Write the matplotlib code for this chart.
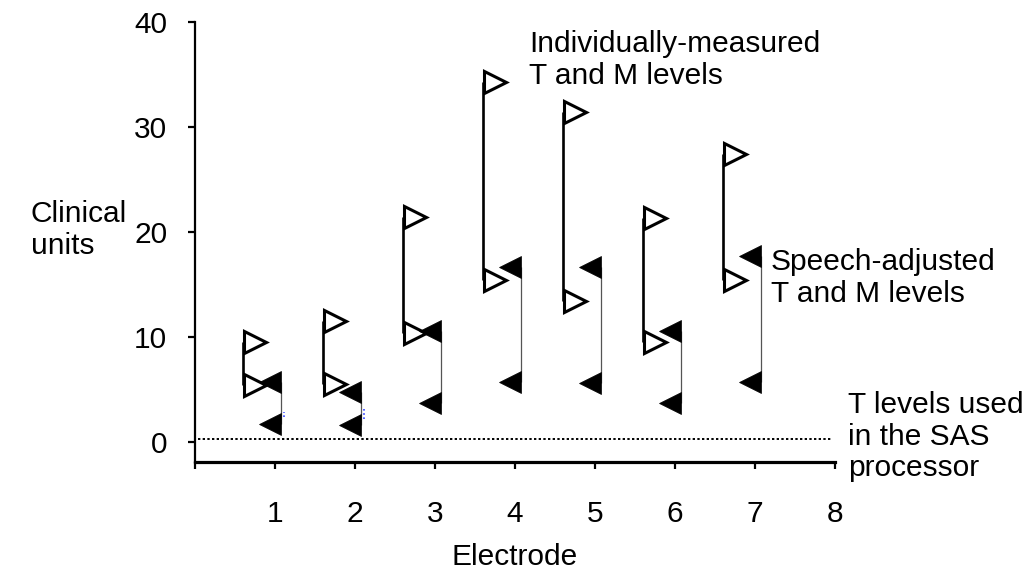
import matplotlib
matplotlib.use("Agg")
import matplotlib.pyplot as plt

plt.rcParams["font.family"] = ["Liberation Sans", "DejaVu Sans"]
plt.rcParams["font.size"] = 21.5

electrodes = [1, 2, 3, 4, 5, 6, 7]
# individually-measured levels (open triangles)
measured_m = [9.5, 11.5, 21.4, 34.3, 31.4, 21.3, 27.4]
measured_t = [5.4, 5.5, 10.4, 15.4, 13.4, 9.5, 15.4]
# speech-adjusted levels (filled triangles)
adjusted_m = [5.7, 4.8, 10.6, 16.7, 16.7, 10.6, 17.7]
adjusted_t = [1.7, 1.6, 3.7, 5.7, 5.6, 3.7, 5.7]
# small blue dotted bits next to electrodes 1 and 2
blue_electrodes = [1, 2]
blue_lo = [2.4, 2.2]
blue_hi = [2.9, 3.2]
sas_t_level = 0.25

xticks = [0, 1, 2, 3, 4, 5, 6, 7, 8]
xticklabels = ["", "1", "2", "3", "4", "5", "6", "7", "8"]
yticks = [0, 10, 20, 30, 40]

open_off = -0.25
filled_off = -0.066
open_line_off = -0.40
filled_line_off = 0.075

fig = plt.figure(figsize=(10.33, 5.71), dpi=100)
ax = fig.add_axes([195 / 1033, 1 - 462 / 571, 640 / 1033, 440 / 571])

xo = [e + open_off for e in electrodes]
xf = [e + filled_off for e in electrodes]
xol = [e + open_line_off for e in electrodes]
xfl = [e + filled_line_off for e in electrodes]

ax.vlines(xol, measured_t, measured_m, color="black", lw=1.9, zorder=2)
ax.vlines(xfl, adjusted_t, adjusted_m, color="#555555", lw=0.9, zorder=2)

ax.plot(xo, measured_m, ">", ms=16, mfc="white", mec="black", mew=2.2, ls="none", zorder=3)
ax.plot(xo, measured_t, ">", ms=16, mfc="white", mec="black", mew=2.2, ls="none", zorder=3)
ax.plot(xf, adjusted_m, "<", ms=16, mfc="black", mec="black", mew=0.5, ls="none", zorder=4)
ax.plot(xf, adjusted_t, "<", ms=16, mfc="black", mec="black", mew=0.5, ls="none", zorder=4)

ax.vlines([e + filled_line_off + 0.04 for e in blue_electrodes], blue_lo, blue_hi,
          color="#3344ff", lw=1.2, linestyles=(0, (1, 1.5)), zorder=2)

ax.plot([0.04, 7.96], [sas_t_level, sas_t_level], color="black", lw=1.4,
        ls=(0, (1.2, 1.2)), zorder=1)

ax.set_xlim(0, 8)
ax.set_ylim(-1.9, 40)
ax.spines["top"].set_visible(False)
ax.spines["right"].set_visible(False)
ax.spines["left"].set_linewidth(1.6)
ax.spines["bottom"].set_linewidth(2.3)

ax.set_xticks(xticks)
ax.set_xticklabels(xticklabels)
ax.set_yticks(yticks)
ax.tick_params(axis="x", direction="out", length=5, width=1.6, pad=22)
ax.tick_params(axis="y", direction="out", length=5, width=1.6, pad=15)

ax.set_xlabel("Electrode", labelpad=11)

ls = 1.18
fig.text(0.030, 0.650, "Clinical\nunits", ha="left", va="top", linespacing=ls)
fig.text(529 / 1033, 0.948, "Individually-measured\nT and M levels", ha="left", va="top",
         linespacing=ls)
fig.text(771 / 1033, 0.566, "Speech-adjusted\nT and M levels", ha="left", va="top",
         linespacing=ls)
fig.text(848 / 1033, 0.316, "T levels used\nin the SAS\nprocessor", ha="left", va="top",
         linespacing=ls)

fig.savefig("out.png", dpi=100)
